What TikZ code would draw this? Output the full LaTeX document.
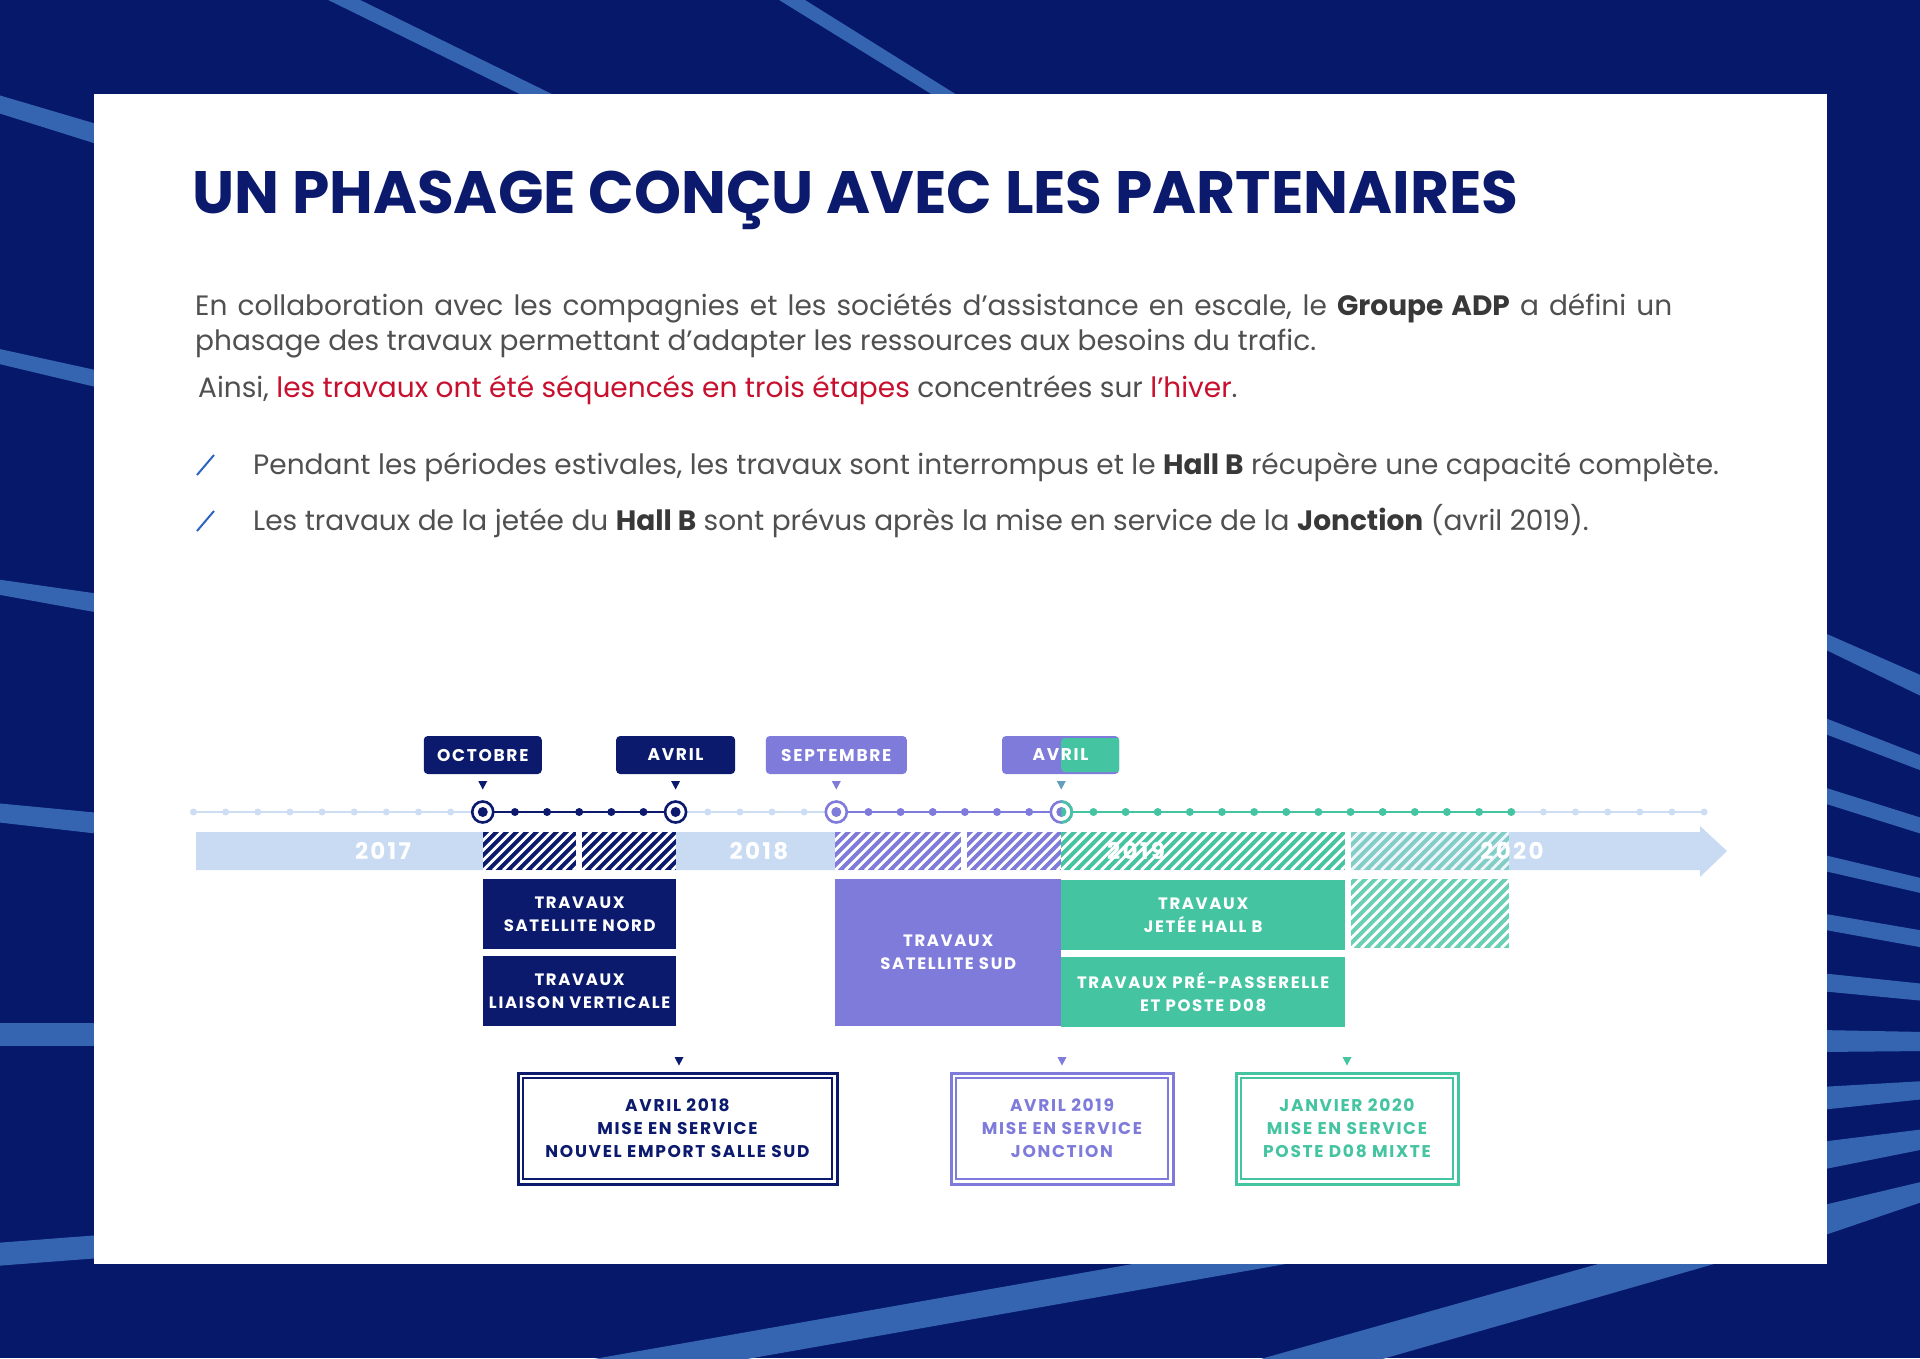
\documentclass[tikz,border=0pt]{standalone}
\usepackage{fontspec}
\setmainfont{Poppins}
\newfontfamily\trackfam[LetterSpace=10]{Poppins}
\usepackage{graphicx}
\usetikzlibrary{calc}
\definecolor{bgnavy}{HTML}{06186A}
\definecolor{stripe}{HTML}{3565B1}
\definecolor{navy}{HTML}{0B1A6C}
\definecolor{purp}{HTML}{7F7BDA}
\definecolor{grn}{HTML}{45C4A1}
\definecolor{lblue}{HTML}{C8DBF3}
\definecolor{ldot}{HTML}{CCDDF4}
\definecolor{txtgray}{HTML}{505050}
\definecolor{txtdark}{HTML}{383838}
\definecolor{accred}{HTML}{C8102E}
\definecolor{slashblue}{HTML}{2E63C0}
\newcommand\myTitleFont{\fontsize{54}{60}\selectfont\bfseries}
\newcommand\myBodyFont{\fontsize{28}{34}\selectfont}
\newcommand\myTagFont{\trackfam\fontsize{17}{20}\selectfont\bfseries}
\newcommand\myBlockFont{\trackfam\fontsize{16.5}{23}\selectfont\bfseries}
\newcommand\myServFont{\trackfam\fontsize{17}{23}\selectfont\bfseries}
\newcommand\myYearFont{\trackfam\fontsize{23}{26}\selectfont\bfseries}
\tikzset{
  ldotS/.style={circle, fill=ldot, inner sep=0pt, minimum size=7pt},
  cdotS/.style={circle, fill=#1, inner sep=0pt, minimum size=8pt},
  bigmark/.style={circle, draw=#1, fill=white, line width=2.6pt, inner sep=0pt, minimum size=21pt},
  coremark/.style={circle, fill=#1, inner sep=0pt, minimum size=10pt},
  tagbox/.style={rounded corners=4pt, fill=#1, text=white, font=\myTagFont, minimum height=38pt, inner sep=0pt},
  hatchfill/.style 2 args={fill=#1, inner sep=0pt, anchor=north west,
    path picture={\foreach \k in {-90,-80,...,300}{\draw[#2, line width=2.8pt] ([xshift=\k pt]path picture bounding box.south west) -- ++(110pt,110pt);}}},
  blockbox/.style={fill=#1, text=white, font=\myBlockFont, align=center, inner sep=0pt, anchor=north west},
  servbox/.style={draw=#1, line width=3pt, text=#1, font=\myServFont, align=center, inner sep=0pt, fill=white},
  bodytext/.style={anchor=base west, inner sep=0pt, text=txtgray, font=\myBodyFont},
  yeartext/.style={text=white, font=\myYearFont, inner sep=0pt}
}
\begin{document}
\begin{tikzpicture}[x=1pt,y=-1pt]
\useasboundingbox (0,0) rectangle (1920,1358);
\fill[bgnavy] (0,0) rectangle (1920,1358);
% background stripes
\begin{scope}
\clip (0,0) rectangle (1920,1358);
\foreach \a/\b/\c/\d in {94/112/125/145, 348/363/371/388, 579/594/594/613, 803/822/813/834, 1023/1046/1023/1046, 1243/1266/1235/1258}
  \fill[stripe] (-5,\a) -- (100,\c) -- (100,\d) -- (-5,\b) -- cycle;
\foreach \a/\b/\c/\d in {631/647/677/698, 716/732/757/772, 786/802/819/835, 854/870/879/894, 913/929/931/948, 973/991/984/1001, 1030/1052/1032/1051, 1087/1110/1081/1099, 1142/1170/1129/1149}
  \fill[stripe] (1820,\a) -- (1925,\c) -- (1925,\d) -- (1820,\b) -- cycle;
\fill[stripe] (1925,1181) -- (1828,1204) -- (1598,1264) -- (1250,1362) -- (1372,1362) -- (1714,1264) -- (1828,1234) -- (1925,1201) -- cycle;
\fill[stripe] (1212,1250) -- (1365,1250) -- (730,1362) -- (577,1362) -- cycle;
\fill[stripe] (318,-5) -- (350,-5) -- (564,100) -- (532,100) -- cycle;
\fill[stripe] (771,-5) -- (797,-5) -- (965,100) -- (941,100) -- cycle;
\end{scope}
\fill[white] (94,94) rectangle (1827,1264);

% title and text
\node[anchor=base west, inner sep=0pt, text=navy, font=\myTitleFont] (title) at (192,213) {\resizebox{1326pt}{!}{UN PHASAGE CONÇU AVEC LES PARTENAIRES}};
\node[bodytext] (p1) at (195,315) {\makebox[1477pt][s]{En collaboration avec les compagnies et les sociétés d’assistance en escale, le \textcolor{txtdark}{\bfseries Groupe ADP} a défini un}};
\node[bodytext] (p2) at (195,350) {phasage des travaux permettant d’adapter les ressources aux besoins du trafic.};
\node[bodytext] (p3) at (198,397) {Ainsi, \textcolor{accred}{les travaux ont été séquencés en trois étapes} concentrées sur \textcolor{accred}{l’hiver}.};
\node[bodytext] (b1) at (253,474) {Pendant les périodes estivales, les travaux sont interrompus et le \textcolor{txtdark}{\bfseries Hall B} récupère une capacité complète.};
\node[bodytext] (b2) at (253,530) {Les travaux de la jetée du \textcolor{txtdark}{\bfseries Hall B} sont prévus après la mise en service de la \textcolor{txtdark}{\bfseries Jonction} (avril 2019).};
\coordinate (s1a) at (197,475); \coordinate (s1b) at (214,455);
\coordinate (s2a) at (197,531); \coordinate (s2b) at (214,511);
\draw[slashblue, line width=2pt] (s1a) -- (s1b);
\draw[slashblue, line width=2pt] (s2a) -- (s2b);

% year bar
\fill[lblue] (196,832) -- (1700,832) -- (1700,826) -- (1727,851) -- (1700,877) -- (1700,870) -- (196,870) -- cycle;

% hatched blocks on bar
\node[hatchfill={navy}{white}, minimum width=93pt, minimum height=38pt] (hn1) at (483,832) {};
\node[hatchfill={navy}{white}, minimum width=94pt, minimum height=38pt] (hn2) at (582,832) {};
\node[hatchfill={purp}{white}, minimum width=126pt, minimum height=38pt] (hp1) at (835,832) {};
\node[hatchfill={purp}{white}, minimum width=94pt, minimum height=38pt] (hp2) at (967,832) {};
\node[hatchfill={grn}{white}, minimum width=284pt, minimum height=38pt] (hg1) at (1061,832) {};
\node[hatchfill={grn!55!lblue}{white!70!lblue}, minimum width=158pt, minimum height=38pt] (hl1) at (1351,832) {};
\fill[white] (576,831) rectangle (582,871);
\fill[white] (961,831) rectangle (967,871);
\fill[white] (1345,831) rectangle (1351,871);

% year labels
\node[yeartext] (y17) at (383,851) {2017};
\node[yeartext] (y18) at (759,851) {2018};
\node[yeartext] (y19) at (1136,851) {2019};
\node[yeartext] (y20) at (1512,851) {2020};

% timeline
\foreach \i in {0,...,47} \coordinate (d\i) at ({193.5+32.14*\i},812);
\draw[ldot, line width=2pt] (d0) -- (d47);
\draw[navy, line width=2.4pt] (d9) -- (d15);
\draw[purp, line width=2.4pt] (d20) -- (d27);
\draw[grn, line width=2.4pt] (d27) -- (d41);
\foreach \i in {0,...,8} \node[ldotS] (dot\i) at (d\i) {};
\foreach \i in {16,...,19} \node[ldotS] (dot\i) at (d\i) {};
\foreach \i in {42,...,47} \node[ldotS] (dot\i) at (d\i) {};
\foreach \i in {10,...,14} \node[cdotS=navy] (dot\i) at (d\i) {};
\foreach \i in {21,...,26} \node[cdotS=purp] (dot\i) at (d\i) {};
\foreach \i in {28,...,41} \node[cdotS=grn] (dot\i) at (d\i) {};
\node[bigmark=navy] (m9) at (d9) {}; \node[coremark=navy] (c9) at (d9) {};
\node[bigmark=navy] (m15) at (d15) {}; \node[coremark=navy] (c15) at (d15) {};
\node[bigmark=purp] (m20) at (d20) {}; \node[coremark=purp] (c20) at (d20) {};
\node[bigmark=purp] (m27) at (d27) {}; \node[coremark=purp] (c27) at (d27) {};
\draw[grn, line width=2.6pt] (d27) ++(90:10.5) arc[start angle=90, end angle=-90, radius=10.5];
\fill[grn] (d27) ++(90:5) arc[start angle=90, end angle=-90, radius=5] -- cycle;

% pointer triangles
\foreach \i/\c in {9/navy, 15/navy, 20/purp, 27/purp!50!grn}
  \fill[\c] ($(d\i)+(-4.5,-31)$) -- ++(9,0) -- ++(-4.5,8.5) -- cycle;

% month tags
\node[tagbox=navy, minimum width=118pt] (tOct) at ($(d9)+(0,-57)$) {OCTOBRE};
\node[tagbox=navy, minimum width=119pt] (tAvr1) at ($(d15)+(0,-57)$) {AVRIL};
\node[tagbox=purp, minimum width=141pt] (tSep) at ($(d20)+(0,-57)$) {SEPTEMBRE};
\node[tagbox=purp, minimum width=117pt,
  path picture={\fill[grn] ($(path picture bounding box.south)+(0.5,-2)$) rectangle ($(path picture bounding box.north east)+(2,2)$);}] (tAvr2) at (1060.5,755) {};
\node[text=white, font=\myTagFont, inner sep=0pt] (tAvr2t) at (tAvr2.center) {AVRIL};

% work blocks
\node[blockbox=navy, minimum width=193pt, minimum height=70pt] (bSN) at (483,879) {TRAVAUX\\SATELLITE NORD};
\node[blockbox=navy, minimum width=193pt, minimum height=70pt] (bLV) at (483,956) {TRAVAUX\\LIAISON VERTICALE};
\node[blockbox=purp, minimum width=226pt, minimum height=147pt] (bSS) at (835,879) {TRAVAUX\\SATELLITE SUD};
\node[blockbox=grn, minimum width=284pt, minimum height=70pt] (bJH) at (1061,880) {TRAVAUX\\JETÉE HALL B};
\node[blockbox=grn, minimum width=284pt, minimum height=70pt] (bPP) at (1061,957) {TRAVAUX PRÉ-PASSERELLE\\ET POSTE D08};
\node[hatchfill={grn!80}{white}, minimum width=158pt, minimum height=69pt] (hl2) at (1351,879) {};

% service boxes
\foreach \x/\c in {679/navy, 1062/purp, 1347/grn}
  \fill[\c] (\x-4.5,1057) -- ++(9,0) -- ++(-4.5,8.5) -- cycle;
\node[servbox=navy, minimum width=319pt, minimum height=111pt] (sv1) at (677.5,1128.5) {AVRIL 2018\\MISE EN SERVICE\\NOUVEL EMPORT SALLE SUD};
\node[servbox=purp, minimum width=222pt, minimum height=111pt] (sv2) at (1062,1128.5) {AVRIL 2019\\MISE EN SERVICE\\JONCTION};
\node[servbox=grn, minimum width=222pt, minimum height=111pt] (sv3) at (1347,1128.5) {JANVIER 2020\\MISE EN SERVICE\\POSTE D08 MIXTE};
\foreach \n/\c in {sv1/navy, sv2/purp, sv3/grn}
  \draw[\c, line width=2pt] ($(\n.north west)+(6.5,6.5)$) rectangle ($(\n.south east)+(-6.5,-6.5)$);
\end{tikzpicture}
\end{document}
